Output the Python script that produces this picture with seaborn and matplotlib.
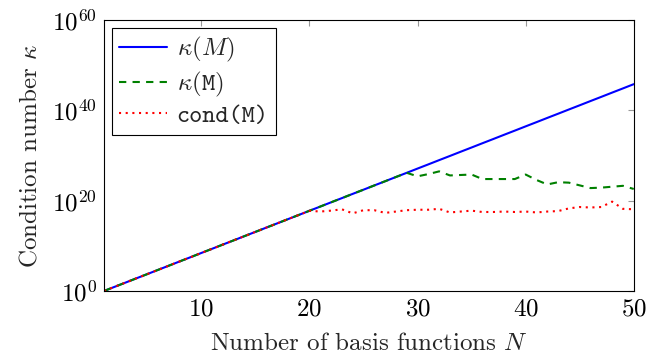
import numpy as np
import pandas as pd
import matplotlib
matplotlib.use("Agg")
import matplotlib.pyplot as plt
import seaborn as sns
from matplotlib.ticker import LogFormatterSciNotation, FixedLocator, NullLocator

# ---- data (log10 of the condition numbers) ----
N = list(range(1, 51))
log_kappa_exact = [0.00, 0.94, 1.87, 2.81, 3.74, 4.68, 5.61, 6.55, 7.48, 8.42,
                   9.35, 10.29, 11.22, 12.16, 13.09, 14.03, 14.96, 15.90, 16.83, 17.77,
                   18.70, 19.64, 20.57, 21.51, 22.44, 23.38, 24.31, 25.25, 26.18, 27.12,
                   28.05, 28.99, 29.92, 30.86, 31.79, 32.73, 33.66, 34.60, 35.53, 36.47,
                   37.40, 38.34, 39.27, 40.21, 41.14, 42.08, 43.01, 43.95, 44.88, 45.82]
log_kappa_num = [0.00, 0.94, 1.87, 2.81, 3.74, 4.68, 5.61, 6.55, 7.48, 8.42,
                 9.35, 10.29, 11.22, 12.16, 13.09, 14.03, 14.96, 15.90, 16.83, 17.77,
                 18.70, 19.64, 20.57, 21.51, 22.44, 23.38, 24.31, 25.25, 26.18, 25.40,
                 25.90, 26.50, 25.60, 25.70, 25.80, 24.80, 24.80, 24.80, 24.80, 25.80,
                 24.60, 23.60, 24.10, 24.00, 23.40, 22.80, 22.90, 23.10, 23.30, 22.60]
log_cond = [0.00, 0.94, 1.87, 2.81, 3.74, 4.68, 5.61, 6.55, 7.48, 8.42,
            9.35, 10.29, 11.22, 12.16, 13.09, 14.03, 14.96, 15.90, 16.83, 17.77,
            17.60, 17.80, 18.10, 17.20, 17.90, 17.90, 17.30, 17.60, 17.90, 18.00,
            18.00, 18.20, 17.40, 17.60, 17.80, 17.50, 17.50, 17.60, 17.50, 17.60,
            17.40, 17.60, 17.70, 18.30, 18.60, 18.50, 18.60, 19.80, 18.20, 18.10]
labels = [r"$\kappa(M)$", r"$\kappa(\mathtt{M})$", "cond(M)"]

df = pd.DataFrame({
    "N": N,
    "exact": np.power(10.0, log_kappa_exact),
    "num": np.power(10.0, log_kappa_num),
    "cond": np.power(10.0, log_cond),
})

sns.set_style("white")
plt.rcParams["font.family"] = ["serif"]
plt.rcParams["font.serif"] = ["cmr10", "DejaVu Serif"]
plt.rcParams["font.monospace"] = ["cmtt10", "DejaVu Sans Mono"]
plt.rcParams["mathtext.fontset"] = "cm"
plt.rcParams["axes.formatter.use_mathtext"] = True

FS = 18

fig = plt.figure(figsize=(6.48, 3.6), dpi=100)
ax = fig.add_axes([0.1605, 0.1917, 0.8175, 0.7523])

sns.lineplot(data=df, x="N", y="exact", ax=ax, color="#0000ff", lw=1.5,
             label=labels[0])
sns.lineplot(data=df, x="N", y="num", ax=ax, color="#008000", lw=1.5,
             linestyle=(0, (3.5, 3.0)), label=labels[1])
sns.lineplot(data=df, x="N", y="cond", ax=ax, color="#ff0000", lw=1.5,
             linestyle=(0, (1.0, 2.2)), label=labels[2])

ax.set_yscale("log")
ax.set_xlim(1, 50)
ax.set_ylim(1e0, 1e60)
ax.yaxis.set_major_locator(FixedLocator([1e0, 1e20, 1e40, 1e60]))
ax.yaxis.set_major_formatter(LogFormatterSciNotation())
ax.yaxis.set_minor_locator(NullLocator())
ax.xaxis.set_major_locator(FixedLocator([10, 20, 30, 40, 50]))

ax.tick_params(axis="both", which="major", direction="in", length=4,
               width=0.8, color="#999999", labelsize=FS, pad=5,
               top=True, right=True, labelcolor="black")
for s in ax.spines.values():
    s.set_color("black")
    s.set_linewidth(0.8)

ax.set_xlabel(r"Number of basis functions $N$", fontsize=FS, labelpad=9)
ax.set_ylabel(r"Condition number $\kappa$", fontsize=FS, labelpad=8)

leg = ax.legend(loc="upper left", fontsize=FS, frameon=True, fancybox=False,
                edgecolor="black", framealpha=1, handlelength=1.9,
                handletextpad=0.4, borderpad=0.3, labelspacing=0.22,
                borderaxespad=0.3)
leg.get_frame().set_linewidth(0.8)
leg.get_texts()[2].set_fontfamily("monospace")

fig.savefig("out.png", dpi=100)
